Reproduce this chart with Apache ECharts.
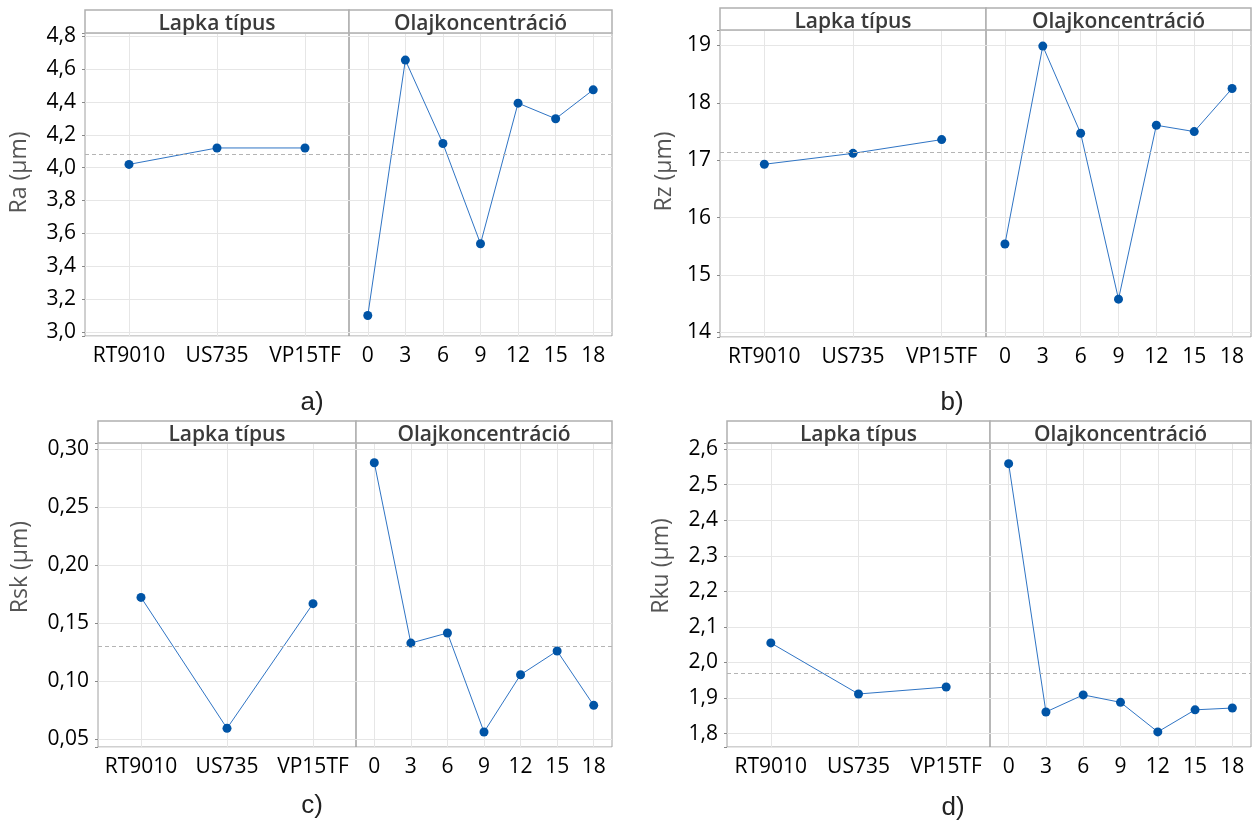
<!DOCTYPE html>
<html>
<head>
<meta charset="utf-8">
<script src="https://cdn.jsdelivr.net/npm/echarts@6/dist/echarts.min.js"></script>
<style>
html, body { margin: 0; padding: 0; background: #fff; }
#main { width: 1252px; height: 825px; }
</style>
</head>
<body>
<div id="main"></div>
<script>
// kategóriák
var lapka = ['RT9010', 'US735', 'VP15TF'];
var olaj = ['0', '3', '6', '9', '12', '15', '18'];

// átlagértékek (leolvasva)
var raLapka = [4.02, 4.12, 4.12];
var raOlaj = [3.10, 4.655, 4.147, 3.537, 4.393, 4.298, 4.474];
var rzLapka = [16.93, 17.12, 17.36];
var rzOlaj = [15.54, 18.99, 17.47, 14.58, 17.61, 17.50, 18.25];
var rskLapka = [0.1724, 0.0595, 0.167];
var rskOlaj = [0.2885, 0.133, 0.1417, 0.0563, 0.1057, 0.1262, 0.0793];
var rkuLapka = [2.055, 1.9115, 1.931];
var rkuOlaj = [2.559, 1.861, 1.909, 1.888, 1.805, 1.867, 1.872];

// főátlag (szaggatott vonal)
var means = [4.085, 17.14, 0.1335, 1.966];
var yNames = ['Ra (µm)', 'Rz (µm)', 'Rsk (µm)', 'Rku (µm)'];
var letters = ['a)', 'b)', 'c)', 'd)'];
var headers = ['Lapka típus', 'Olajkoncentráció'];

// panelek elrendezése
var panels = [
    {x0: 85, xm: 349, x1: 612, ht: 10, top: 33, bottom: 336, min: 2.975, max: 4.82, split: 9, step: 0.2, dec: 1, gap: 54, pad: 24, lx: 312, ly: 403, data: [raLapka, raOlaj]},
    {x0: 720, xm: 986, x1: 1251, ht: 8, top: 30, bottom: 337, min: 13.92, max: 19.27, split: 5, step: 1, dec: 0, gap: 44, pad: 24, lx: 952, ly: 403, data: [rzLapka, rzOlaj]},
    {x0: 98, xm: 356, x1: 612, ht: 421, top: 443, bottom: 747, min: 0.0434, max: 0.3055, split: 5, step: 0.05, dec: 2, gap: 66, pad: 56, lx: 312, ly: 806, data: [rskLapka, rskOlaj]},
    {x0: 727, xm: 990, x1: 1251, ht: 421, top: 443, bottom: 747, min: 1.7625, max: 2.617, split: 8, step: 0.1, dec: 1, gap: 54, pad: 58, lx: 953, ly: 808, data: [rkuLapka, rkuOlaj]}
];

var font = '"Open Sans", "Noto Sans", sans-serif';
var grids = [], xAxes = [], yAxes = [], series = [], graphics = [];

panels.forEach(function (p, i) {
    var bounds = [[p.x0, p.xm], [p.xm, p.x1]];
    var cats = [lapka, olaj];
    var h = p.bottom - p.top;
    bounds.forEach(function (b, j) {
        var gi = grids.length;
        grids.push({
            left: b[0], top: p.top, width: b[1] - b[0], height: h,
            show: true, borderColor: '#a0a0a0', borderWidth: 1,
            containLabel: false, outerBoundsMode: 'none'
        });
        xAxes.push({
            type: 'category', gridIndex: gi, data: cats[j], boundaryGap: true,
            axisLine: {show: false},
            axisTick: {show: true, inside: true, length: h, alignWithLabel: true, interval: 0,
                lineStyle: {color: '#e6e6e6', width: 1}},
            axisLabel: {interval: 0, color: '#000', fontSize: 21, fontWeight: 500, fontFamily: font, margin: 10},
            splitLine: {show: false}
        });
        var step = p.step, dec = p.dec;
        yAxes.push({
            type: 'value', gridIndex: gi, min: p.min, max: p.max, splitNumber: p.split,
            name: j === 0 ? yNames[i] : '', nameLocation: 'middle', nameGap: p.gap,
            nameTextStyle: {color: '#555', fontSize: 23, fontFamily: font, padding: [0, 0, 0, p.pad]},
            axisLine: {show: false},
            axisTick: {show: j === 0, length: 3, lineStyle: {color: '#888'}},
            axisLabel: {
                show: j === 0, color: '#000', fontSize: 21, fontWeight: 500, fontFamily: font, margin: 9,
                formatter: function (v) {
                    var k = v / step;
                    if (Math.abs(k - Math.round(k)) > 1e-6) return '';
                    return (Math.round(k) * step).toFixed(dec).replace('.', ',');
                }
            },
            splitLine: {show: true, lineStyle: {color: '#e6e6e6', width: 1}}
        });
        series.push({
            type: 'line', xAxisIndex: gi, yAxisIndex: gi, data: p.data[j],
            symbol: 'circle', symbolSize: 9, showAllSymbol: true,
            lineStyle: {color: '#2f74c4', width: 1},
            itemStyle: {color: '#0054a6'},
            z: 3,
            markLine: {
                silent: true, symbol: 'none', label: {show: false}, animation: false,
                lineStyle: {color: '#b4b4b4', type: [4, 3], width: 1},
                data: [{yAxis: means[i]}]
            }
        });
        // fejléc doboz
        graphics.push({
            type: 'rect', shape: {x: b[0], y: p.ht, width: b[1] - b[0], height: p.top - p.ht},
            style: {fill: '#fff', stroke: '#b0b0b0', lineWidth: 1.5}, z: 10
        });
        graphics.push({
            type: 'text', x: (b[0] + b[1]) / 2, y: (p.ht + p.top) / 2 + 3, z: 11,
            style: {text: headers[j], fill: '#3a3a3a', font: '600 21px ' + font, align: 'center', verticalAlign: 'middle'}
        });
    });
    graphics.push({
        type: 'text', x: p.lx, y: p.ly, z: 11,
        style: {text: letters[i], fill: '#222', font: '26px "Liberation Sans", Arial, sans-serif', align: 'center', verticalAlign: 'middle'}
    });
});

var chart = echarts.init(document.getElementById('main'));
chart.setOption({
    animation: false,
    backgroundColor: '#fff',
    grid: grids,
    xAxis: xAxes,
    yAxis: yAxes,
    series: series,
    graphic: graphics
});
</script>
</body>
</html>
